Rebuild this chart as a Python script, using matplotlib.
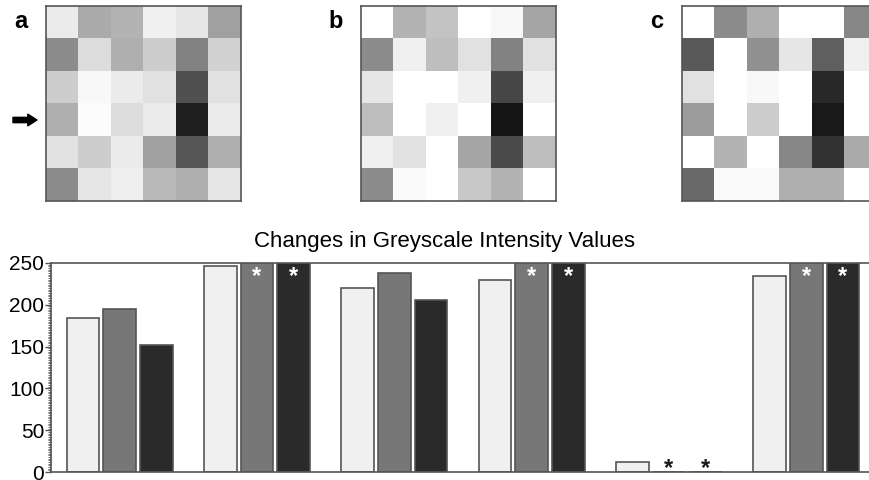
import numpy as np
import matplotlib.pyplot as plt
from matplotlib.ticker import MultipleLocator

plt.rcParams['font.family'] = ['Liberation Sans', 'DejaVu Sans']

# greyscale images, 0 = black, 255 = white (rows top to bottom)
img_a = [[235, 170, 180, 240, 230, 160],
         [140, 220, 175, 205, 130, 210],
         [205, 248, 235, 225, 80, 225],
         [175, 252, 220, 235, 30, 235],
         [225, 205, 235, 160, 85, 175],
         [140, 230, 238, 185, 175, 230]]
img_b = [[255, 180, 195, 255, 248, 165],
         [140, 240, 190, 225, 130, 225],
         [230, 255, 255, 240, 70, 240],
         [190, 255, 240, 255, 20, 255],
         [240, 225, 255, 165, 75, 190],
         [140, 250, 255, 200, 180, 255]]
img_c = [[255, 140, 175, 255, 255, 135],
         [90, 255, 145, 230, 95, 240],
         [225, 255, 248, 255, 40, 255],
         [155, 255, 205, 255, 25, 255],
         [255, 180, 255, 135, 50, 170],
         [105, 250, 250, 175, 175, 255]]
panel_labels = ['a', 'b', 'c']

# bar chart: one value per column group for images a, b, c
vals_a = [184, 247, 220, 230, 12, 234]
vals_b = [195, 255, 238, 255, 0, 255]
vals_c = [152, 255, 206, 255, 0, 255]
bar_colors = ['#f0f0f0', '#777777', '#2a2a2a']
title = 'Changes in Greyscale Intensity Values'

fig = plt.figure(figsize=(8.69, 4.8), dpi=100)

lefts = [46 / 869, 361 / 869, 682 / 869]
for img, lab, lx in zip([img_a, img_b, img_c], panel_labels, lefts):
    ax = fig.add_axes([lx, 1 - 201 / 480, 195 / 869, 195 / 480])
    ax.imshow(np.array(img), cmap='gray', vmin=0, vmax=255,
              interpolation='nearest', aspect='auto')
    ax.set_xticks([])
    ax.set_yticks([])
    for s in ax.spines.values():
        s.set_color('#555555')
        s.set_linewidth(1.2)
    fig.text(lx - 25 / 869, 1 - 22 / 480, lab, fontsize=17, fontweight='bold',
             ha='center', va='center')

# arrow pointing at row 4 of image a
fig.add_artist(plt.Annotation('', xy=(37 / 869, 1 - 120 / 480),
                              xytext=(13 / 869, 1 - 120 / 480),
                              xycoords='figure fraction',
                              arrowprops=dict(arrowstyle='simple,head_length=0.55,'
                                              'head_width=0.7,tail_width=0.32',
                                              mutation_scale=12, color='black',
                                              shrinkA=0, shrinkB=0)))

axb = fig.add_axes([51 / 869, 1 - 472 / 480, 824 / 869, 209 / 480])
x = np.arange(len(vals_a))
pitch = 0.266
w = 0.238
for k, (vals, col) in enumerate(zip([vals_a, vals_b, vals_c], bar_colors)):
    xs = x + (k - 1) * pitch
    axb.bar(xs, vals, width=w, color=col, edgecolor='#555555', linewidth=1.2)
    if k > 0:
        # significance asterisks: white on saturated bars, black on empty ones
        for xi, v in zip(xs, vals):
            if v >= 250:
                axb.text(xi, 234, '*', color='white', fontsize=17,
                         ha='center', va='center', fontweight='bold')
            elif v == 0:
                axb.text(xi, 4, '*', color='#1a1a1a', fontsize=17,
                         ha='center', va='center', fontweight='bold')

axb.set_xlim(-0.5, 5.5)
axb.set_ylim(0, 250)
axb.set_xticks([])
axb.yaxis.set_major_locator(MultipleLocator(50))
axb.yaxis.set_minor_locator(MultipleLocator(2))
axb.tick_params(axis='y', which='major', length=4, width=1, pad=1,
                labelsize=15, color='#555555')
axb.tick_params(axis='y', which='minor', length=2.5, width=0.6, color='#555555')
axb.spines['right'].set_visible(False)
for s in ['left', 'top', 'bottom']:
    axb.spines[s].set_color('#555555')
    axb.spines[s].set_linewidth(1.2)
fig.text(445 / 869, 1 - 241 / 480, title, fontsize=16, ha='center', va='center')

fig.savefig('out.png', dpi=100)
